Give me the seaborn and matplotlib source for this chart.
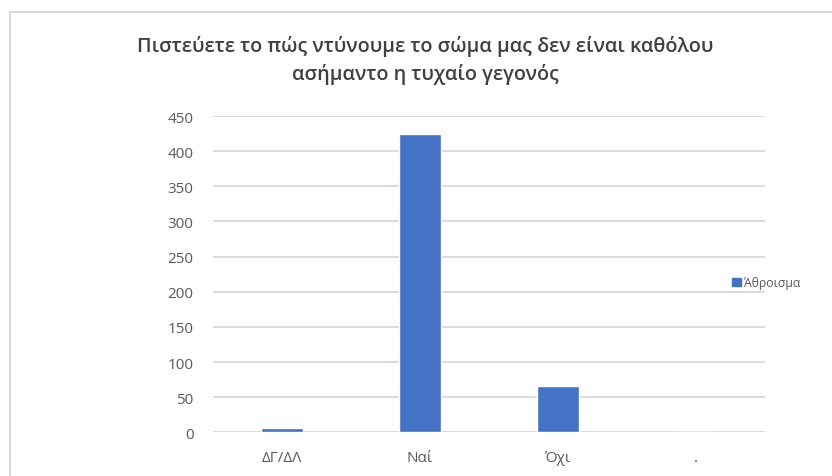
import matplotlib
matplotlib.use("Agg")
import matplotlib.pyplot as plt
from matplotlib.lines import Line2D
import seaborn as sns
import pandas as pd

categories = ["ΔΓ/ΔΛ", "Ναί", "Όχι", "."]
totals = [6, 424, 66, 0]
series_name = "Άθροισμα"
title = "Πιστεύετε το πώς ντύνουμε το σώμα μας δεν είναι καθόλου\nασήμαντο η τυχαίο γεγονός"
y_ticks = [0, 50, 100, 150, 200, 250, 300, 350, 400, 450]

sns.set_theme(style="white")
plt.rcParams["font.family"] = ["Open Sans", "DejaVu Sans"]

text_color = "#595959"
bar_color = "#4472C4"
grid_color = "#D9D9D9"

df = pd.DataFrame({"category": categories, "total": totals})

fig = plt.figure(figsize=(8.32, 4.77), dpi=100)
ax = fig.add_axes([0.256, 0.0916, 0.6635, 0.6631])

sns.barplot(data=df, x="category", y="total", color=bar_color, width=0.31,
            saturation=1, ax=ax)

ax.set_ylim(0, 450)
ax.set_yticks(y_ticks)
ax.set_xlim(-0.5, len(categories) - 0.5)
ax.set_xlabel("")
ax.set_ylabel("")
for s in ax.spines.values():
    s.set_visible(False)
ax.yaxis.grid(True, color=grid_color, linewidth=1.3)
ax.set_axisbelow(True)
ax.tick_params(axis="both", length=0, colors=text_color, labelsize=11)
ax.tick_params(axis="y", pad=14)
ax.tick_params(axis="x", pad=13)

fig.text(0.511, 0.873, title, ha="center", va="center", fontsize=14.3,
         fontweight="semibold", color="#404040", linespacing=1.45)

handle = plt.Rectangle((0, 0), 1, 1, color=bar_color)
fig.legend([handle], [series_name], loc="center left",
           bbox_to_anchor=(0.867, 0.405), frameon=False, fontsize=8.8,
           labelcolor=text_color, handlelength=0.7, handleheight=0.7,
           handletextpad=0.25)

# outer chart frame
fig.add_artist(Line2D([0.012, 0.012], [0, 0.973], color=grid_color, linewidth=1.5))
fig.add_artist(Line2D([0.012, 1.0], [0.973, 0.973], color=grid_color, linewidth=1.5))

fig.savefig("out.png", dpi=100)
